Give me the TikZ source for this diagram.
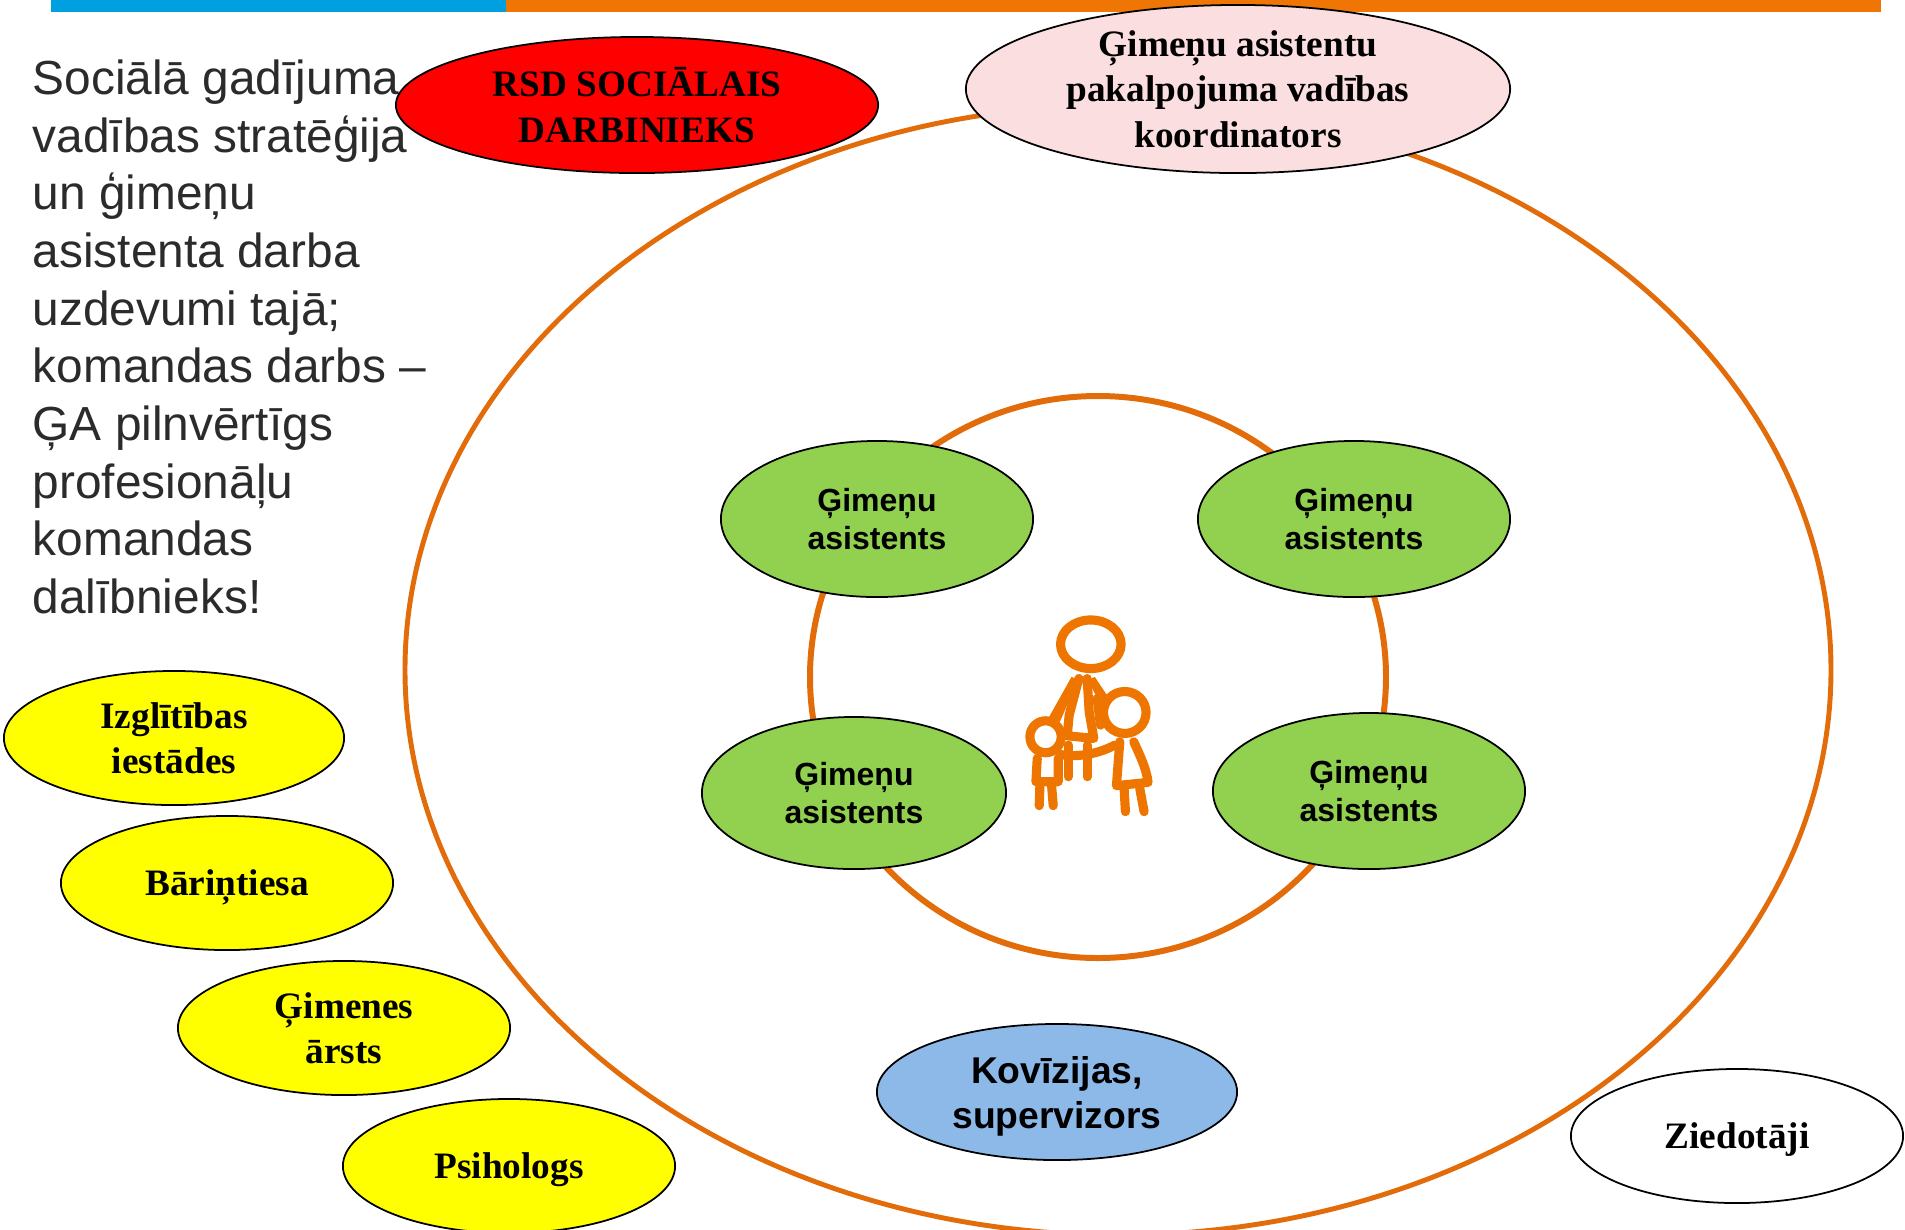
\documentclass[tikz,border=0pt]{standalone}
\usepackage{fontspec}
\setmainfont{Liberation Sans}
\newfontfamily\serifbold[BoldFont={Liberation Serif Bold}]{Liberation Serif}
\usetikzlibrary{shapes.geometric}
\definecolor{barblue}{HTML}{009FE0}
\definecolor{barorange}{HTML}{EF7605}
\definecolor{ringorange}{HTML}{E36C0A}
\definecolor{famorange}{HTML}{EE7600}
\definecolor{bubblered}{HTML}{FF0000}
\definecolor{bubblepink}{HTML}{FBDEDF}
\definecolor{bubblegreen}{HTML}{92D050}
\definecolor{bubbleyellow}{HTML}{FFFF00}
\definecolor{bubbleblue}{HTML}{8DB9E8}
\definecolor{leadgray}{HTML}{2B2B2B}
\tikzset{
    bubble/.style={ellipse,draw=black,line width=0.5pt,inner sep=0pt,align=center},
    serifbubble/.style={bubble,font=\fontsize{10.6}{13}\selectfont\serifbold\bfseries},
    greenbubble/.style={bubble,fill=bubblegreen,minimum width=3.12cm,minimum height=1.56cm,
        text depth=-1.1pt,font=\fontsize{9.1}{10.8}\selectfont\bfseries},
    yellowbubble/.style={serifbubble,fill=bubbleyellow,minimum width=3.32cm,minimum height=1.34cm},
    ring/.style={draw=ringorange,line width=1.4pt},
    famline/.style={draw=famorange,line width=2.6pt,line cap=round,line join=round}
}
\begin{document}
\begin{tikzpicture}[x=0.01cm,y=-0.01cm]
    \useasboundingbox (0,0) rectangle (1905,1229);
    % Top bar
    \fill[color=barblue] (51,0) rectangle (506,12);
    \fill[color=barorange] (506,0) rectangle (1881,12);
    % Rings
    \draw[ring] (1118,670) ellipse (713 and 565);
    \draw[ring,line width=1.7pt] (1098,677) ellipse (288 and 281);
    % Heading
    \node[anchor=north west,align=left,color=leadgray,inner sep=0pt,
        font=\fontsize{13.6}{16.4}\selectfont] (lead) at (32,59)
        {Sociālā gadījuma\\vadības stratēģija\\un ģimeņu\\asistenta darba\\uzdevumi tajā;\\komandas darbs --\\ĢA pilnvērtīgs\\profesionāļu\\komandas\\dalībnieks!};
    % Top bubbles
    \node[serifbubble,fill=bubblered,minimum width=4.82cm,minimum height=1.36cm,text depth=-1.3pt] (rsd) at (637,105)
        {RSD SOCIĀLAIS\\DARBINIEKS};
    \node[serifbubble,fill=bubblepink,minimum width=5.44cm,minimum height=1.68cm,text depth=-2pt] (coord) at (1238,89)
        {Ģimeņu asistentu\\pakalpojuma vadības\\koordinators};
    % Family assistants
    \node[greenbubble] (asst1) at (877,519) {Ģimeņu\\asistents};
    \node[greenbubble] (asst2) at (1354,519) {Ģimeņu\\asistents};
    \node[greenbubble,minimum width=3.04cm,minimum height=1.52cm] (asst3) at (854,793) {Ģimeņu\\asistents};
    \node[greenbubble] (asst4) at (1369,791) {Ģimeņu\\asistents};
    % Outside partners
    \node[yellowbubble,minimum width=3.4cm,text depth=-3.2pt] (school) at (174,738) {Izglītības\\iestādes};
    \node[yellowbubble,text depth=-3pt] (orphan) at (227,883) {Bāriņtiesa};
    \node[yellowbubble,text depth=-3.2pt] (doctor) at (344,1028) {Ģimenes\\ārsts};
    \node[yellowbubble,text depth=-0.4pt] (psych) at (509,1166) {Psihologs};
    \node[bubble,fill=bubbleblue,minimum width=3.6cm,minimum height=1.36cm,text depth=-0.5pt,
        font=\fontsize{10.6}{12.8}\selectfont\bfseries] (superv) at (1057,1092) {Kovīzijas,\\supervizors};
    \node[serifbubble,minimum width=3.32cm,minimum height=1.34cm,text depth=-1.9pt] (donors) at (1737,1136) {Ziedotāji};
    % Family
    \begin{scope}[shift={(980,582)},x=0.00333cm,y=-0.00333cm]
        \draw[famline] (333,187) ellipse (91 and 73);
        \draw[famline] (197,465) ellipse (47 and 48);
        \draw[famline] (435,392) ellipse (64 and 63);
        % Adult
        \fill[color=famorange] (275,285) -- (205,410) -- (240,420) -- (295,295) -- cycle;
        \fill[color=famorange] (345,285) -- (385,345) -- (360,365) -- (325,295) -- cycle;
        \draw[famline] (297,290) -- (268,400) -- (262,462) -- (342,470) -- (328,390) -- (322,290);
        \draw[famline] (352,350) -- (362,430);
        \draw[famline] (265,490) -- (265,585);
        \draw[famline] (322,490) -- (322,585);
        \draw[famline] (240,518) .. controls (270,525) and (340,525) .. (405,490);
        % Small child
        \draw[famline] (172,530) -- (168,600) -- (235,600) -- (235,530);
        \draw[famline] (180,610) -- (178,672);
        \draw[famline] (215,610) -- (220,672);
        % Older child
        \draw[famline] (420,480) -- (410,612) -- (505,602) .. controls (500,560) and (480,520) .. (462,480);
        \draw[famline] (433,620) -- (437,690);
        \draw[famline] (480,620) -- (493,690);
    \end{scope}
\end{tikzpicture}
\end{document}
